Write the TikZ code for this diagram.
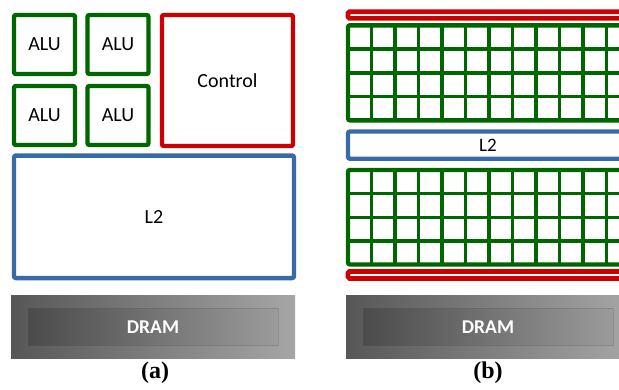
\documentclass[tikz,border=0pt]{standalone}
\usepackage{fontspec}
\setmainfont{Carlito}
\newfontfamily\capfont{Liberation Serif}
\definecolor{alugreen}{RGB}{0,102,0}
\definecolor{ctlred}{RGB}{204,0,0}
\definecolor{cacheblue}{RGB}{56,106,168}
\tikzset{
  unitbox/.style={draw=#1, line width=4.4pt, rounded corners=2pt, inner sep=0pt,
    fill=white, font=\fontsize{20}{20}\selectfont},
  alubox/.style={unitbox=alugreen, minimum width=61pt, minimum height=59pt},
  gridline/.style={draw=alugreen, line width=3.4pt},
  redbar/.style={draw=ctlred, line width=4.7pt, rounded corners=1.5pt},
  dramlabel/.style={text=white, font=\bfseries\fontsize{19.5}{19.5}\selectfont},
  caption/.style={font=\capfont\bfseries\fontsize{24}{24}\selectfont}
}
\begin{document}
\begin{tikzpicture}[x=1pt,y=-1pt]
\useasboundingbox (0,0) rectangle (619,389);
\clip (0,0) rectangle (619,389);

% ---------- (a) CPU-style layout ----------
\node[alubox] (alu11) at (44.5,44.5) {ALU};
\node[alubox] (alu12) at (118,44.5) {ALU};
\node[alubox] (alu21) at (44.5,115.5) {ALU};
\node[alubox] (alu22) at (118,115.5) {ALU};
\node[unitbox=ctlred, minimum width=131pt, minimum height=131pt] (ctl) at (227.5,80.5) {Control};
\node[unitbox=cacheblue, minimum width=280pt, minimum height=122.5pt] (l2a) at (154,216.8) {L2};

% DRAM block (a)
\shade[left color=black!66, right color=black!35] (11,295) rectangle (295,358);
\shade[left color=black!78, right color=black!42, opacity=0.45] (28,308) rectangle (278,345);
\draw[black!65, line width=0.4pt, opacity=0.25] (28,308) rectangle (278,345);
\node[dramlabel] (drama) at (153,327) {DRAM};
\node[caption] (capa) at (155,373) {(a)};

% ---------- (b) GPU-style layout ----------
\node[redbar, minimum width=282pt, minimum height=6.7pt, inner sep=0pt] (ctltop) at (489,15) {};
\node[unitbox=alugreen, minimum width=282pt, minimum height=95pt] (smtop) at (489,72.8) {};
\foreach \i in {1,...,11} \draw[gridline] (348+\i*23.5,25.3) -- (348+\i*23.5,120.3);
\foreach \j in {1,2,3} \draw[gridline] (348,25.3+\j*23.75) -- (630,25.3+\j*23.75);

\node[unitbox=cacheblue, minimum width=282pt, minimum height=27.2pt] (l2b) at (489,145.1) {};
\node[font=\fontsize{19}{19}\selectfont] (l2btext) at (488,145) {L2};

\node[unitbox=alugreen, minimum width=282pt, minimum height=94.5pt] (smbot) at (489,217.2) {};
\foreach \i in {1,...,11} \draw[gridline] (348+\i*23.5,170) -- (348+\i*23.5,264.5);
\foreach \j in {1,2,3} \draw[gridline] (348,170+\j*23.625) -- (630,170+\j*23.625);

\node[redbar, minimum width=282pt, minimum height=7pt, inner sep=0pt] (ctlbot) at (489,274.9) {};

% DRAM block (b)
\shade[left color=black!66, right color=black!35] (346,295) rectangle (630,358);
\shade[left color=black!78, right color=black!42, opacity=0.45] (363,308) rectangle (613,345);
\draw[black!65, line width=0.4pt, opacity=0.25] (363,308) rectangle (613,345);
\node[dramlabel] (dramb) at (488,327) {DRAM};
\node[caption] (capb) at (488,373) {(b)};
\end{tikzpicture}
\end{document}
